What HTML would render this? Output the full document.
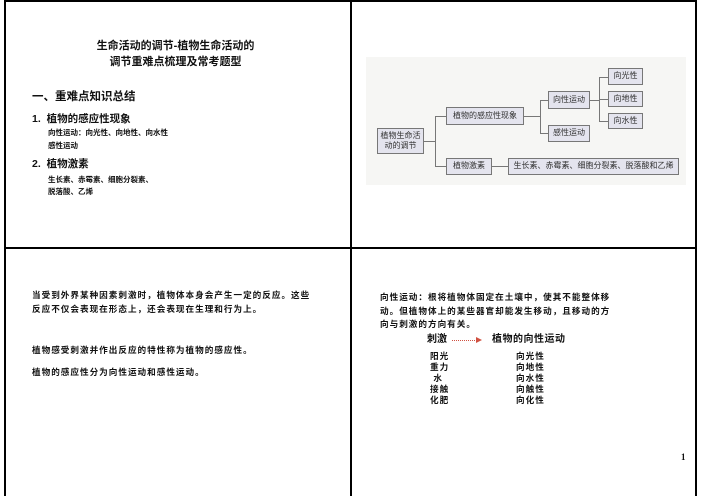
<!DOCTYPE html>
<html><head><meta charset="utf-8"><style>
body{margin:0;width:702px;height:496px;background:#fff;position:relative;overflow:hidden;font-family:"Liberation Sans","Noto Sans CJK SC",sans-serif;font-weight:bold;color:#111}
.t{position:absolute;white-space:nowrap;line-height:1}
.s{font-size:8.6px;letter-spacing:1px}
.b{position:absolute;background:#e4e4ee;border:1px solid #777;font-size:8px;font-weight:normal;color:#333;display:flex;align-items:center;justify-content:center;box-sizing:border-box;text-align:center;line-height:1.3}
.l{position:absolute;background:#777}
</style></head><body>
<div style="position:absolute;left:4px;top:0;width:693px;height:496px;border:2px solid #000;border-bottom:none;box-sizing:border-box"></div>
<div style="position:absolute;left:350px;top:0;width:2px;height:496px;background:#000"></div>
<div style="position:absolute;left:4px;top:247px;width:693px;height:2px;background:#000"></div>

<div class="t" style="left:0;width:351px;text-align:center;top:41px;font-size:11px">生命活动的调节-植物生命活动的</div>
<div class="t" style="left:0;width:351px;text-align:center;top:57px;font-size:11px">调节重难点梳理及常考题型</div>
<div class="t" style="left:32px;top:92px;font-size:11.5px">一、重难点知识总结</div>
<div class="t" style="left:32px;top:114px;font-size:10.5px">1.&nbsp; 植物的感应性现象</div>
<div class="t" style="left:48px;top:129px;font-size:7.5px">向性运动：向光性、向地性、向水性</div>
<div class="t" style="left:48px;top:142px;font-size:7.5px">感性运动</div>
<div class="t" style="left:32px;top:159px;font-size:10.5px">2.&nbsp; 植物激素</div>
<div class="t" style="left:48px;top:176px;font-size:7.5px">生长素、赤霉素、细胞分裂素、</div>
<div class="t" style="left:48px;top:188px;font-size:7.5px">脱落酸、乙烯</div>

<div style="position:absolute;left:366px;top:57px;width:320px;height:128px;background:#f6f6f4"></div>
<div class="l" style="left:424px;top:141px;width:12px;height:1px"></div>
<div class="l" style="left:435px;top:116px;width:1px;height:51px"></div>
<div class="l" style="left:435px;top:116px;width:11px;height:1px"></div>
<div class="l" style="left:435px;top:166px;width:11px;height:1px"></div>
<div class="l" style="left:524px;top:116px;width:16px;height:1px"></div>
<div class="l" style="left:540px;top:100px;width:1px;height:34px"></div>
<div class="l" style="left:540px;top:100px;width:8px;height:1px"></div>
<div class="l" style="left:540px;top:133px;width:8px;height:1px"></div>
<div class="l" style="left:590px;top:100px;width:10px;height:1px"></div>
<div class="l" style="left:599px;top:77px;width:1px;height:45px"></div>
<div class="l" style="left:599px;top:77px;width:9px;height:1px"></div>
<div class="l" style="left:599px;top:99px;width:9px;height:1px"></div>
<div class="l" style="left:599px;top:121px;width:9px;height:1px"></div>
<div class="l" style="left:492px;top:166px;width:16px;height:1px"></div>
<div class="b" style="left:377px;top:128px;width:47px;height:26px">植物生命活<br>动的调节</div>
<div class="b" style="left:446px;top:107px;width:78px;height:18px">植物的感应性现象</div>
<div class="b" style="left:446px;top:158px;width:46px;height:17px">植物激素</div>
<div class="b" style="left:508px;top:158px;width:171px;height:17px">生长素、赤霉素、细胞分裂素、脱落酸和乙烯</div>
<div class="b" style="left:548px;top:91px;width:42px;height:18px">向性运动</div>
<div class="b" style="left:548px;top:125px;width:42px;height:17px">感性运动</div>
<div class="b" style="left:608px;top:68px;width:35px;height:17px">向光性</div>
<div class="b" style="left:608px;top:91px;width:35px;height:16px">向地性</div>
<div class="b" style="left:608px;top:113px;width:35px;height:16px">向水性</div>

<div class="t s" style="left:32px;top:291px">当受到外界某种因素刺激时，植物体本身会产生一定的反应。这些</div>
<div class="t s" style="left:32px;top:305px">反应不仅会表现在形态上，还会表现在生理和行为上。</div>
<div class="t s" style="left:32px;top:346px">植物感受刺激并作出反应的特性称为植物的感应性。</div>
<div class="t s" style="left:32px;top:368px">植物的感应性分为向性运动和感性运动。</div>

<div class="t s" style="left:380px;top:293px">向性运动：根将植物体固定在土壤中，使其不能整体移</div>
<div class="t s" style="left:380px;top:307px">动。但植物体上的某些器官却能发生移动，且移动的方</div>
<div class="t s" style="left:380px;top:320px">向与刺激的方向有关。</div>
<div class="t" style="left:427px;top:335px;font-size:10px">刺激</div>
<div style="position:absolute;left:452px;top:340px;width:25px;border-top:1px dotted #d05040"></div>
<div style="position:absolute;left:476px;top:337px;width:0;height:0;border-left:6px solid #d05040;border-top:3px solid transparent;border-bottom:3px solid transparent"></div>
<div class="t" style="left:492px;top:335px;font-size:10px;letter-spacing:.5px">植物的向性运动</div>
<div class="t s" style="left:430px;top:351px;line-height:11px">阳光<br>重力<br>&nbsp;水<br>接触<br>化肥</div>
<div class="t s" style="left:516px;top:351px;line-height:11px">向光性<br>向地性<br>向水性<br>向触性<br>向化性</div>
<div class="t" style="left:681px;top:453px;font-size:9px;font-family:'Liberation Serif',serif">1</div>
</body></html>
